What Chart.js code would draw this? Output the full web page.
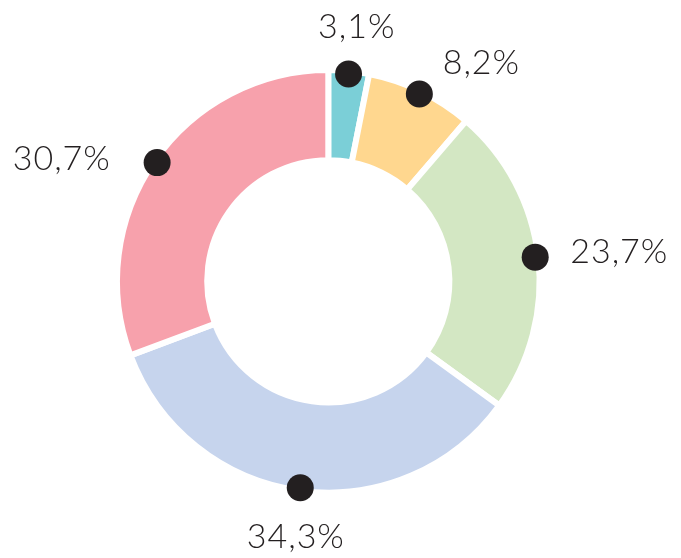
<!DOCTYPE html>
<html>
<head>
<meta charset="utf-8">
<script src="https://cdn.jsdelivr.net/npm/chart.js@4"></script>
<style>
  html, body { margin: 0; padding: 0; background: #fff; }
  #wrap { width: 681px; height: 558px; position: relative; }
</style>
</head>
<body>
<div id="wrap"><canvas id="donut"></canvas></div>
<script>
const categories = ['A', 'B', 'C', 'D', 'E'];
const shares = [3.1, 8.2, 23.7, 34.3, 30.7];
const shareLabels = ['3,1%', '8,2%', '23,7%', '34,3%', '30,7%'];
const sliceColors = ['#7bcfd7', '#ffd78f', '#d3e7c3', '#c6d4ed', '#f7a1ac'];

const INK = '#231f20';
const GAP = 6;

// dots on the outer rim + labels pushed outward
const rimLabels = {
  id: 'rimLabels',
  afterDatasetsDraw(chart, args, opts) {
    const ctx = chart.ctx;
    const arcs = chart.getDatasetMeta(0).data;
    const nudge = opts.nudge || [];
    ctx.save();
    ctx.font = '300 34px Lato, "Open Sans", sans-serif';
    ctx.letterSpacing = '1px';
    ctx.fillStyle = INK;
    arcs.forEach((arc, i) => {
      const mid = (arc.startAngle + arc.endAngle) / 2;
      const r = arc.outerRadius - GAP / 2;
      const cx = arc.x + Math.cos(mid) * r;
      const cy = arc.y + Math.sin(mid) * r;
      ctx.beginPath();
      ctx.arc(cx, cy, 13.5, 0, Math.PI * 2);
      ctx.fill();

      const txt = shareLabels[i];
      const w = ctx.measureText(txt).width;
      const h = 24;
      const d = 33 + Math.abs(Math.cos(mid)) * w / 2 + Math.abs(Math.sin(mid)) * h / 2;
      const [nx, ny] = nudge[i] || [0, 0];
      const tx = cx + Math.cos(mid) * d + nx;
      const ty = cy + Math.sin(mid) * d + ny;
      ctx.textAlign = 'center';
      ctx.textBaseline = 'alphabetic';
      ctx.fillText(txt, tx + 0.5, ty + h / 2);
    });
    ctx.restore();
  }
};

new Chart(document.getElementById('donut'), {
  type: 'doughnut',
  data: {
    labels: categories,
    datasets: [{
      data: shares,
      backgroundColor: sliceColors,
      borderColor: '#ffffff',
      borderWidth: GAP,
      hoverOffset: 0
    }]
  },
  options: {
    responsive: true,
    maintainAspectRatio: false,
    animation: false,
    cutout: '57.3%',
    layout: { padding: { left: 114, top: 67, right: 138.4, bottom: 62.4 } },
    plugins: {
      legend: { display: false },
      tooltip: { enabled: false },
      rimLabels: { nudge: [[3, 0], [35, 23], [1, 3], [2, -3], [-30, 41]] }
    }
  },
  plugins: [rimLabels]
});
</script>
</body>
</html>
